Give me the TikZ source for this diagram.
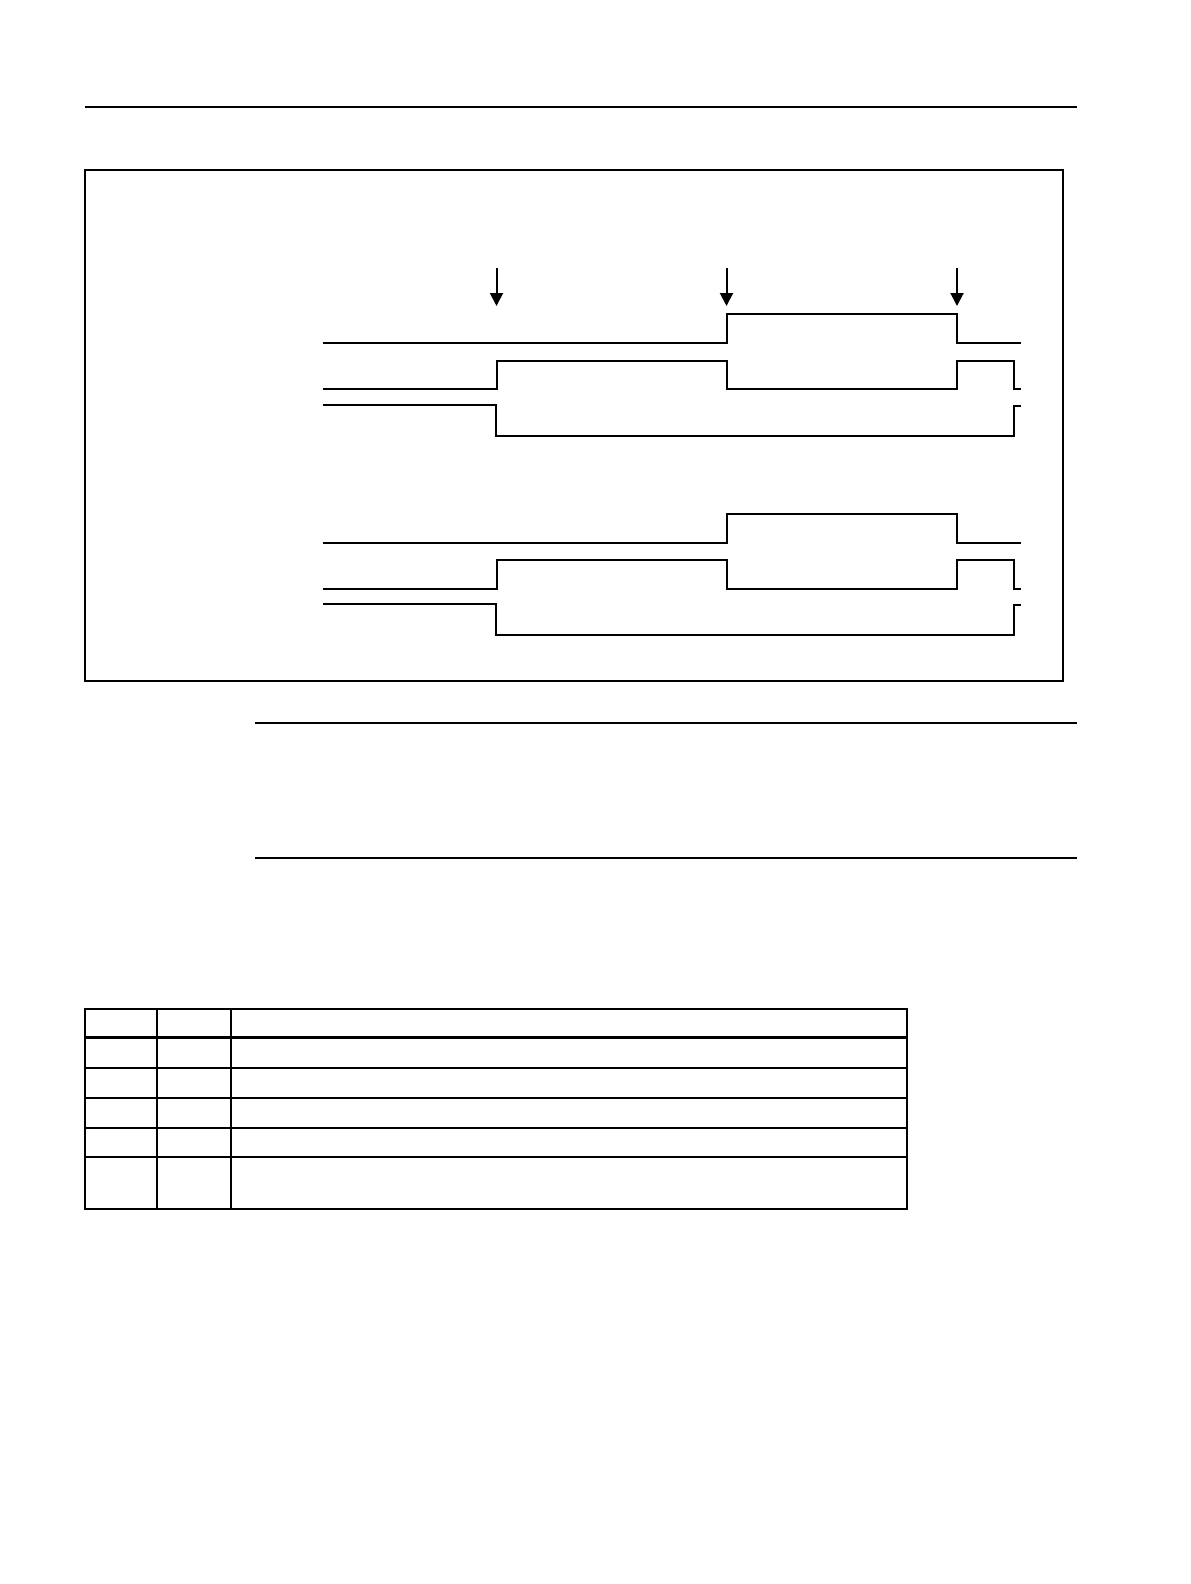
\documentclass[tikz,border=0pt]{standalone}
\usetikzlibrary{arrows.meta}
\begin{document}
\begin{tikzpicture}[x=0.5pt,y=-0.5pt,
  wave/.style={line width=1pt,line join=miter},
  rule/.style={line width=1pt},
  frame/.style={line width=1pt},
  marker/.style={line width=1pt,-{Triangle[length=6.5pt,width=6.5pt]}},
  grid/.style={line width=1pt},
  thickrule/.style={line width=1.7pt}]
\useasboundingbox[fill=white] (0,0) rectangle (1190,1584);
% page rules
\draw[rule] (85,107) -- (1077,107);
\draw[rule] (255,722.5) -- (1077,722.5);
\draw[rule] (255,857.5) -- (1077,857.5);
% figure frame
\draw[frame] (85,170) rectangle (1063,681);
% event markers
\coordinate (m1t) at (496.5,268); \coordinate (m1b) at (496.5,306);
\coordinate (m2t) at (726.5,268); \coordinate (m2b) at (726.5,306);
\coordinate (m3t) at (957,268);   \coordinate (m3b) at (957,306);
\draw[marker] (m1t) -- (m1b);
\draw[marker] (m2t) -- (m2b);
\draw[marker] (m3t) -- (m3b);
% waveform groups
\foreach \dy in {0,199.4}{
  \begin{scope}[yshift=-\dy*0.5pt]
    \draw[wave] (322.5,343.3) -- (726.5,343.3) -- (726.5,314.3) -- (957,314.3) -- (957,343.3) -- (1021,343.3);
    \draw[wave] (322.5,389.3) -- (496.5,389.3) -- (496.5,360.7) -- (727,360.7) -- (727,389.3) -- (957,389.3) -- (957,360.7) -- (1014,360.7) -- (1014,389.3) -- (1021,389.3);
    \draw[wave] (322.5,405) -- (496,405) -- (496,435.5) -- (1014,435.5) -- (1014,405.5) -- (1021,405.5);
  \end{scope}
}
% table
\draw[grid] (85,1008.7) rectangle (907,1209.3);
\draw[grid] (157.3,1008.7) -- (157.3,1209.3);
\draw[grid] (231.3,1008.7) -- (231.3,1209.3);
\draw[thickrule] (85,1037.7) -- (907,1037.7);
\foreach \yy in {1068.3,1098.3,1128.3,1157.3}
  \draw[grid] (85,\yy) -- (907,\yy);
\end{tikzpicture}
\end{document}
